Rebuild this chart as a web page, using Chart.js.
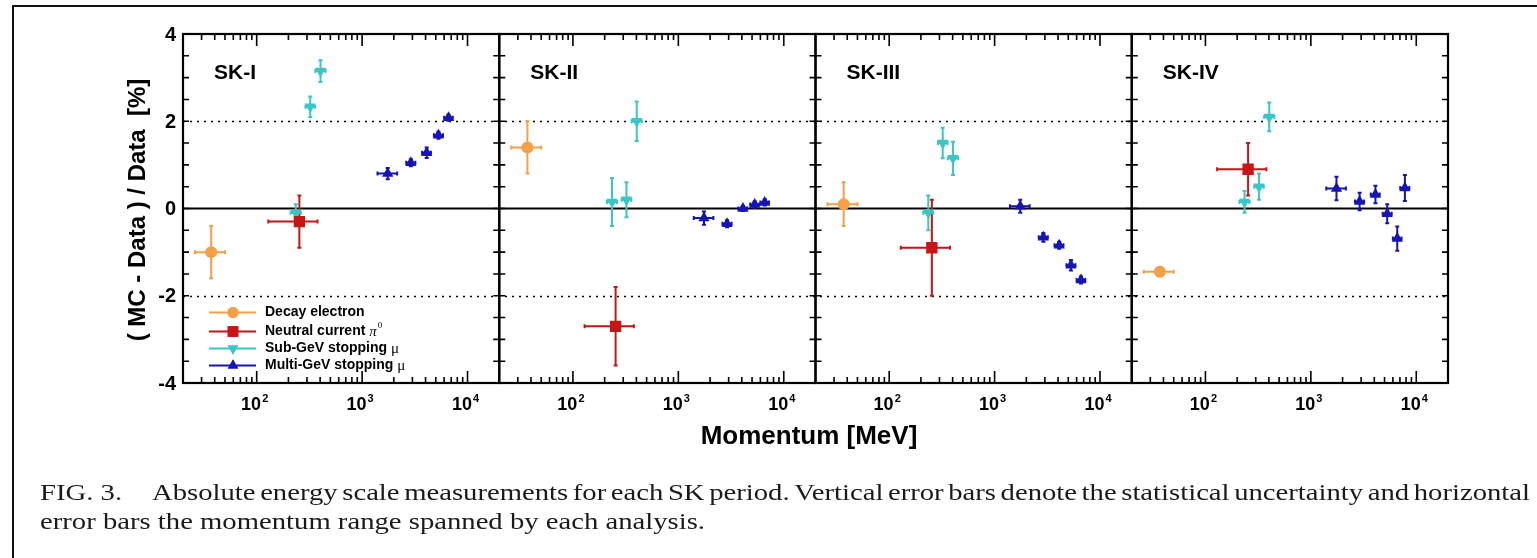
<!DOCTYPE html>
<html>
<head>
<meta charset="utf-8">
<script src="https://cdn.jsdelivr.net/npm/chart.js@4/dist/chart.umd.min.js"></script>
<style>
  html, body { margin: 0; padding: 0; background: #fff; }
  #wrap { position: relative; width: 1537px; height: 558px; }
</style>
</head>
<body>
<div id="wrap"><canvas id="chart" width="1537" height="558"></canvas></div>
<script>
// SK run periods (one panel each)
const periods = ["SK-I", "SK-II", "SK-III", "SK-IV"]

// Decay electron: momentum (MeV) and range, (MC-Data)/Data [%] per period
const decayP = 37
const decayRange = [26, 50]
const decayVal = [-1.0, 1.4, 0.1, -1.45]
const decayErr = [0.6, 0.6, 0.5, 0.1]

// Neutral current pi0
const pi0P = 254
const pi0Range = [129, 378]
const pi0Val = [-0.3, -2.7, -0.9, 0.9]
const pi0Err = [0.6, 0.9, 1.1, 0.6]

// Sub-GeV stopping mu
const subP = [235, 322, 403]
const subLo = [210, 290, 360]
const subHi = [262, 358, 450]
const subVal = [
  [-0.1, 2.33, 3.15],
  [0.15, 0.2, 2.0],
  [-0.1, 1.5, 1.15],
  [0.15, 0.5, 2.1]
]
const subErr = [
  [0.2, 0.24, 0.25],
  [0.55, 0.4, 0.45],
  [0.4, 0.35, 0.38],
  [0.25, 0.3, 0.33]
]

// Multi-GeV stopping mu (SK-IV has one extra bin)
const multiP = [1750, 2900, 4100, 5300, 6600, 7800]
const multiLo = [1400, 2620, 3700, 4800, 6000, 7050]
const multiHi = [2150, 3200, 4500, 5850, 7250, 8600]
const multiVal = [
  [0.8, 1.05, 1.28, 1.68, 2.08, null],
  [-0.22, -0.35, 0.0, 0.09, 0.14, null],
  [0.05, -0.66, -0.84, -1.3, -1.64, null],
  [0.46, 0.16, 0.32, -0.12, -0.69, 0.47]
]
const multiErr = [
  [0.13, 0.08, 0.12, 0.08, 0.07, null],
  [0.15, 0.08, 0.06, 0.07, 0.07, null],
  [0.15, 0.1, 0.08, 0.12, 0.08, null],
  [0.27, 0.2, 0.2, 0.22, 0.28, 0.3]
]

// axes
const xMin = 20
const xMax = 20000
const yMin = -4
const yMax = 4
const yTickLabels = [4, 2, 0, -2, -4]
const xLabelExps = [2, 3, 4]
const dottedLevels = [2, -2]

const captionPrefix = "FIG. 3."
const captionLine1 = "Absolute energy scale measurements for each SK period. Vertical error bars denote the statistical uncertainty and horizontal"
const captionLine2 = "error bars the momentum range spanned by each analysis."

const SANS = '"Liberation Sans", Arial, Helvetica, sans-serif'
const SERIF = '"Liberation Serif", "Times New Roman", serif'

const series = [
  { label: "Decay electron", color: "#f5a046", style: "circle", rotation: 0, radius: 6 },
  { label: "Neutral current ", greek: "π", sup: "0", color: "#c81414", style: "rect", rotation: 0, radius: 8 },
  { label: "Sub-GeV stopping ", greek: "μ", color: "#38c6c6", style: "triangle", rotation: 180, radius: 6.5 },
  { label: "Multi-GeV stopping ", greek: "μ", color: "#1414b8", style: "triangle", rotation: 0, radius: 6.5 }
]

function pointsFor(s, k) {
  if (s === 0) return [{ x: decayP, y: decayVal[k], xl: decayRange[0], xh: decayRange[1], e: decayErr[k] }]
  if (s === 1) return [{ x: pi0P, y: pi0Val[k], xl: pi0Range[0], xh: pi0Range[1], e: pi0Err[k] }]
  if (s === 2) return subP.map((p, i) => ({ x: p, y: subVal[k][i], xl: subLo[i], xh: subHi[i], e: subErr[k][i] }))
  return multiP
    .map((p, i) => ({ x: p, y: multiVal[k][i], xl: multiLo[i], xh: multiHi[i], e: multiErr[k][i] }))
    .filter((p) => p.y != null)
}

const datasets = []
periods.forEach((_name, k) => {
  series.forEach((s, si) => {
    datasets.push({
      label: s.label + " " + periods[k],
      xAxisID: "x" + k,
      yAxisID: "y",
      data: pointsFor(si, k),
      pointStyle: s.style,
      rotation: s.rotation,
      radius: s.radius,
      hoverRadius: s.radius,
      backgroundColor: s.color,
      borderColor: s.color,
      borderWidth: 0,
      showLine: false
    })
  })
})

const scales = { y: { type: "linear", min: yMin, max: yMax, display: false } }
periods.forEach((_n, k) => {
  scales["x" + k] = {
    type: "logarithmic", min: xMin, max: xMax, position: "bottom",
    stack: "momentum", stackWeight: 1, display: false
  }
})

function supLabel(ctx, base, exp, cx, baseline) {
  ctx.font = "bold 18px " + SANS
  const wb = ctx.measureText(base).width
  ctx.font = "bold 11px " + SANS
  const we = ctx.measureText(exp).width
  const x0 = cx - (wb + we + 1) / 2 - 2
  ctx.textAlign = "left"
  ctx.textBaseline = "alphabetic"
  ctx.font = "bold 18px " + SANS
  ctx.fillText(base, x0, baseline)
  ctx.font = "bold 11px " + SANS
  ctx.fillText(exp, x0 + wb + 1, baseline - 8)
}

const panelPlugin = {
  id: "skPanels",
  beforeDatasetsDraw(chart) {
    const { ctx, chartArea: a, scales: sc } = chart
    const y = sc.y
    ctx.save()
    ctx.strokeStyle = "#000"
    ctx.lineWidth = 1.6
    ctx.setLineDash([2, 5])
    dottedLevels.forEach((v) => {
      const py = Math.round(y.getPixelForValue(v)) + 0.5
      ctx.beginPath()
      ctx.moveTo(a.left, py)
      ctx.lineTo(a.right, py)
      ctx.stroke()
    })
    ctx.setLineDash([])
    ctx.lineWidth = 1.8
    const p0 = y.getPixelForValue(0)
    ctx.beginPath()
    ctx.moveTo(a.left, p0)
    ctx.lineTo(a.right, p0)
    ctx.stroke()

    // error bars
    ctx.beginPath()
    ctx.rect(a.left, a.top, a.width, a.height)
    ctx.clip()
    chart.data.datasets.forEach((ds) => {
      const xs = sc[ds.xAxisID]
      ctx.strokeStyle = ds.borderColor
      ctx.lineWidth = 2
      ds.data.forEach((p) => {
        const px = xs.getPixelForValue(p.x)
        const py = y.getPixelForValue(p.y)
        const x1 = xs.getPixelForValue(p.xl)
        const x2 = xs.getPixelForValue(p.xh)
        const y1 = y.getPixelForValue(p.y + p.e)
        const y2 = y.getPixelForValue(p.y - p.e)
        ctx.beginPath()
        ctx.moveTo(x1, py); ctx.lineTo(x2, py)
        ctx.moveTo(px, y1); ctx.lineTo(px, y2)
        ctx.moveTo(x1, py - 2); ctx.lineTo(x1, py + 2)
        ctx.moveTo(x2, py - 2); ctx.lineTo(x2, py + 2)
        ctx.moveTo(px - 2, y1); ctx.lineTo(px + 2, y1)
        ctx.moveTo(px - 2, y2); ctx.lineTo(px + 2, y2)
        ctx.stroke()
      })
    })
    ctx.restore()
  },

  afterDatasetsDraw(chart) {
    const { ctx, chartArea: a, scales: sc } = chart
    const y = sc.y
    ctx.save()
    ctx.strokeStyle = "#000"
    ctx.fillStyle = "#000"
    periods.forEach((name, k) => {
      const xs = sc["x" + k]
      const l = xs.left, r = xs.right
      // frame
      ctx.lineWidth = 2.2
      ctx.strokeRect(l, a.top, r - l, a.bottom - a.top)
      // x ticks, top and bottom, pointing inward
      ctx.lineWidth = 1.6
      ctx.beginPath()
      for (let d = 1; d <= 4; d++) {
        for (let m = 1; m <= 9; m++) {
          const v = m * Math.pow(10, d)
          if (v <= xMin || v >= xMax) continue
          const px = xs.getPixelForValue(v)
          const len = m === 1 ? 12 : 6
          ctx.moveTo(px, a.top); ctx.lineTo(px, a.top + len)
          ctx.moveTo(px, a.bottom); ctx.lineTo(px, a.bottom - len)
        }
      }
      // y ticks every 0.5 on both sides
      for (let v = yMin + 0.5; v < yMax; v += 0.5) {
        const py = y.getPixelForValue(v)
        ctx.moveTo(l, py); ctx.lineTo(l + 6, py)
        ctx.moveTo(r, py); ctx.lineTo(r - 6, py)
      }
      ctx.stroke()

      // decade labels
      xLabelExps.forEach((e) => {
        supLabel(ctx, "10", String(e), xs.getPixelForValue(Math.pow(10, e)), 410)
      })

      // period label
      ctx.font = "bold 21px " + SANS
      ctx.textAlign = "left"
      ctx.textBaseline = "alphabetic"
      ctx.fillText(name, l + 31, 79)
    })
    ctx.restore()
  },

  afterDraw(chart) {
    const { ctx, scales: sc } = chart
    const y = sc.y
    ctx.save()
    ctx.fillStyle = "#000"

    // y tick labels
    ctx.font = "bold 20px " + SANS
    ctx.textAlign = "right"
    ctx.textBaseline = "middle"
    yTickLabels.forEach((v) => ctx.fillText(String(v), 176, y.getPixelForValue(v) + 1))

    // y title
    ctx.save()
    ctx.translate(138, 210)
    ctx.rotate(-Math.PI / 2)
    ctx.font = "bold 24px " + SANS
    ctx.textAlign = "center"
    ctx.textBaseline = "middle"
    ctx.fillText("( MC - Data ) / Data  [%]", 0, 0)
    ctx.restore()

    // x title
    ctx.font = "bold 26px " + SANS
    ctx.textAlign = "center"
    ctx.textBaseline = "alphabetic"
    ctx.fillText("Momentum [MeV]", 809, 444)

    // legend inside SK-I panel
    const rows = [312.5, 331.5, 348.5, 365.5]
    series.forEach((s, i) => {
      const ry = rows[i]
      ctx.strokeStyle = s.color
      ctx.fillStyle = s.color
      ctx.lineWidth = 1.8
      ctx.beginPath()
      ctx.moveTo(209, ry); ctx.lineTo(256, ry)
      ctx.stroke()
      Chart.helpers.drawPoint(ctx, { pointStyle: s.style, rotation: s.rotation, radius: s.radius - 0.5, borderWidth: 0 }, 233, ry)
      ctx.fill()
      ctx.fillStyle = "#000"
      ctx.textAlign = "left"
      ctx.textBaseline = "middle"
      ctx.font = "bold 14px " + SANS
      let tx = 265
      ctx.fillText(s.label, tx, ry)
      tx += ctx.measureText(s.label).width
      if (s.greek) {
        ctx.font = (s.sup ? "italic " : "") + "15px " + SERIF
        ctx.fillText(s.greek, tx, ry + 1)
        tx += ctx.measureText(s.greek).width
      }
      if (s.sup) {
        ctx.font = "9px " + SERIF
        ctx.fillText(s.sup, tx + 1, ry - 6)
      }
    })

    // outer figure frame
    ctx.strokeStyle = "#111"
    ctx.lineWidth = 2
    ctx.beginPath()
    ctx.moveTo(13, 570); ctx.lineTo(13, 6); ctx.lineTo(1545, 6)
    ctx.stroke()

    // caption
    ctx.fillStyle = "#1a1a1a"
    ctx.textAlign = "left"
    ctx.textBaseline = "alphabetic"
    ctx.font = "23px " + SERIF
    const sx = 665 / ctx.measureText(captionLine2).width
    ctx.save()
    ctx.scale(sx, 1)
    ctx.fillText(captionLine2, 40 / sx, 529)
    ctx.fillText(captionPrefix, 40 / sx, 500)
    // justified first line
    const words = captionLine1.split(" ")
    const widths = words.map((w) => ctx.measureText(w).width * sx)
    const used = widths.reduce((s, w) => s + w, 0)
    const gap = (1530 - 152 - used) / (words.length - 1)
    let cx = 152
    words.forEach((w, i) => {
      ctx.fillText(w, cx / sx, 500)
      cx += widths[i] + gap
    })
    ctx.restore()

    ctx.restore()
  }
}

new Chart(document.getElementById("chart"), {
  type: "scatter",
  data: { datasets },
  options: {
    responsive: false,
    animation: false,
    devicePixelRatio: 1,
    layout: { padding: { left: 183, right: 89, top: 34, bottom: 175 } },
    scales,
    plugins: { legend: { display: false }, tooltip: { enabled: false } },
    events: []
  },
  plugins: [panelPlugin]
})
</script>
</body>
</html>
